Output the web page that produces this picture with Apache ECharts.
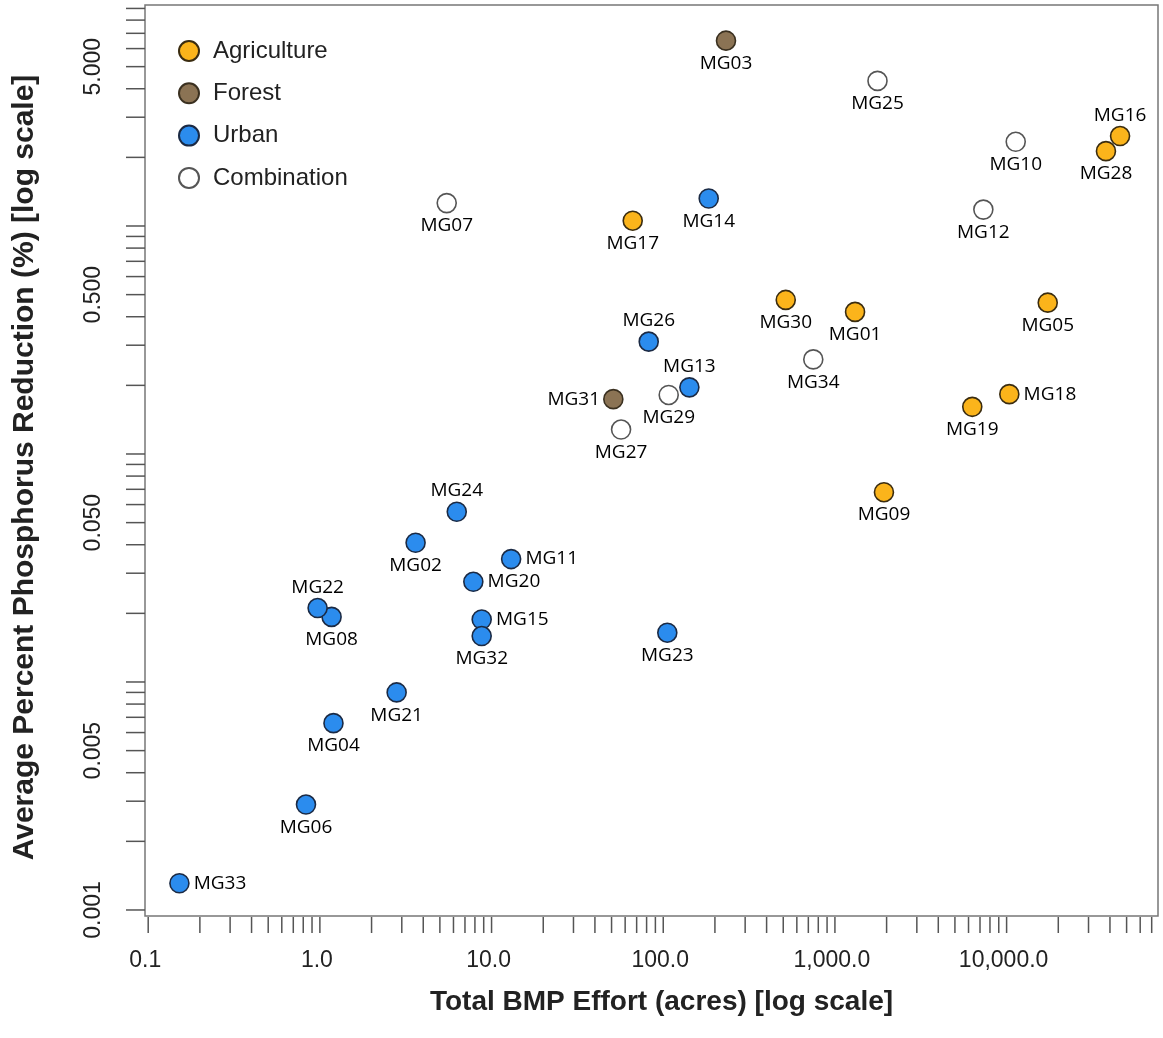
<!DOCTYPE html>
<html>
<head>
<meta charset="utf-8">
<script src="https://cdn.jsdelivr.net/npm/echarts@6/dist/echarts.min.js"></script>
<style>
  html, body { margin: 0; padding: 0; background: #ffffff; }
  #chart { width: 1163px; height: 1038px; }
</style>
</head>
<body>
<div id="chart"></div>
<script>
// Monitoring groups: total BMP effort vs. average phosphorus reduction
const siteNames = ['MG01','MG02','MG03','MG04','MG05','MG06','MG07','MG08','MG09','MG10',
                   'MG11','MG12','MG13','MG14','MG15','MG16','MG17','MG18','MG19','MG20',
                   'MG21','MG22','MG23','MG24','MG25','MG26','MG27','MG28','MG29','MG30',
                   'MG31','MG32','MG33','MG34'];
const landUse = ['Agriculture','Urban','Forest','Urban','Agriculture','Urban','Combination','Urban','Agriculture','Combination',
                 'Urban','Combination','Urban','Urban','Urban','Agriculture','Agriculture','Agriculture','Agriculture','Urban',
                 'Urban','Urban','Urban','Urban','Combination','Urban','Combination','Agriculture','Combination','Agriculture',
                 'Forest','Urban','Urban','Combination'];
const bmpEffortAcres = [1310, 3.61, 232, 1.20, 17360, 0.83, 5.48, 1.17, 1930, 11300,
                        13.0, 7320, 142, 184, 8.76, 45800, 66.4, 10370, 6310, 7.83,
                        2.80, 0.97, 105.6, 6.27, 1770, 82.3, 56.8, 37900, 107.6, 517,
                        51.2, 8.76, 0.152, 748];
const phosphorusReductionPct = [0.420, 0.0408, 6.50, 0.0066, 0.461, 0.0029, 1.26, 0.0193, 0.068, 2.34,
                                0.0346, 1.18, 0.196, 1.32, 0.0188, 2.48, 1.055, 0.183, 0.161, 0.0275,
                                0.0090, 0.0211, 0.01645, 0.0558, 4.33, 0.311, 0.128, 2.13, 0.1815, 0.474,
                                0.174, 0.0159, 0.00131, 0.260];

const categories = ['Agriculture', 'Forest', 'Urban', 'Combination'];

// Axis ranges and tick marks (log scales)
const X_MIN = 0.0958, X_MAX = 76180;
const Y_MIN = 0.000941, Y_MAX = 9.318;
const xTickValues = [0.1,0.2,0.3,0.4,0.5,0.6,0.7,0.8,0.9,
                     1,2,3,4,5,6,7,8,9,
                     10,20,30,40,50,60,70,80,90,
                     100,200,300,400,500,600,700,800,900,
                     1000,2000,3000,4000,5000,6000,7000,8000,9000,
                     10000,20000,30000,40000,50000,60000,70000];
const xLabelValues = [0.1, 1, 10, 100, 1000, 10000];
const xLabelTexts = ['0.1', '1.0', '10.0', '100.0', '1,000.0', '10,000.0'];
const yTickValues = [0.001,0.002,0.003,0.004,0.005,0.006,0.007,0.008,0.009,
                     0.01,0.02,0.03,0.04,0.05,0.06,0.07,0.08,0.09,
                     0.1,0.2,0.3,0.4,0.5,0.6,0.7,0.8,0.9,
                     1,2,3,4,5,6,7,8,9];
const yLabelValues = [0.001, 0.005, 0.05, 0.5, 5];
const yLabelTexts = ['0.001', '0.005', '0.050', '0.500', '5.000'];

// Which side of its marker each site label sits on (default: below)
const labelSide = {
  MG16: 'top', MG22: 'top', MG24: 'top', MG26: 'top', MG13: 'top',
  MG33: 'right', MG11: 'right', MG15: 'right', MG18: 'right', MG20: 'right',
  MG31: 'left'
};
const sideDistance = { top: 1, bottom: 3, left: 3, right: 4 };

const categoryStyle = {
  Agriculture: { color: '#FBB41B', borderColor: '#3a2c10' },
  Forest:      { color: '#8B7354', borderColor: '#3a3020' },
  Urban:       { color: '#2B8CEE', borderColor: '#1b2a44' },
  Combination: { color: '#ffffff', borderColor: '#555555' }
};

const AXIS_FONT = '"Liberation Sans", Arial, sans-serif';
const TICK_COLOR = '#555555';

const scatterSeries = categories.map(cat => ({
  type: 'scatter',
  name: cat,
  symbol: 'circle',
  symbolSize: 19,
  z: 3,
  itemStyle: { color: categoryStyle[cat].color, borderColor: categoryStyle[cat].borderColor, borderWidth: 1.6, opacity: 1 },
  label: {
    show: true,
    formatter: '{b}',
    fontFamily: '"Open Sans", sans-serif',
    fontSize: 19,
    color: '#000000'
  },
  emphasis: { disabled: true },
  data: siteNames
    .map((name, i) => ({ name, i }))
    .filter(d => landUse[d.i] === cat)
    .map(d => {
      const side = labelSide[d.name] || 'bottom';
      return {
        name: d.name,
        value: [bmpEffortAcres[d.i], phosphorusReductionPct[d.i]],
        label: { position: side, distance: sideDistance[side] }
      };
    })
}));

// Tick marks and tick labels drawn outside the plotting frame
const xTickSeries = {
  type: 'custom',
  coordinateSystem: 'cartesian2d',
  clip: false,
  silent: true,
  z: 1,
  data: xTickValues.map(v => [v, Y_MIN, xLabelValues.indexOf(v)]),
  renderItem(params, api) {
    const cs = params.coordSys;
    const x = api.coord([api.value(0), Y_MIN])[0];
    const yb = cs.y + cs.height;
    const children = [{
      type: 'line',
      shape: { x1: x, y1: yb + 1, x2: x, y2: yb + 17 },
      style: { stroke: TICK_COLOR, lineWidth: 1.5 }
    }];
    const k = api.value(2);
    if (k >= 0) {
      children.push({
        type: 'text', x: x - 3, y: yb + 45,
        style: { text: xLabelTexts[k], fontFamily: AXIS_FONT, fontSize: 23, fill: '#222222', align: 'center', verticalAlign: 'middle' }
      });
    }
    return { type: 'group', children };
  }
};

const yTickSeries = {
  type: 'custom',
  coordinateSystem: 'cartesian2d',
  clip: false,
  silent: true,
  z: 1,
  data: yTickValues.map(v => [X_MIN, v, yLabelValues.indexOf(v)]),
  renderItem(params, api) {
    const cs = params.coordSys;
    const y = api.coord([X_MIN, api.value(1)])[1];
    const xl = cs.x;
    const children = [{
      type: 'line',
      shape: { x1: xl - 19, y1: y, x2: xl, y2: y },
      style: { stroke: TICK_COLOR, lineWidth: 1.5 }
    }];
    const k = api.value(2);
    if (k >= 0) {
      children.push({
        type: 'text', x: xl - 51, y: y, rotation: Math.PI / 2,
        style: { text: yLabelTexts[k], fontFamily: AXIS_FONT, fontSize: 23, fill: '#222222', align: 'center', verticalAlign: 'middle' }
      });
    }
    return { type: 'group', children };
  }
};

const chart = echarts.init(document.getElementById('chart'), null, { renderer: 'canvas' });
chart.setOption({
  backgroundColor: '#ffffff',
  animation: false,
  grid: {
    left: 145, top: 5, width: 1013, height: 911,
    show: true, borderColor: '#777777', borderWidth: 1.5, backgroundColor: 'transparent'
  },
  legend: {
    data: categories,
    orient: 'vertical',
    left: 178, top: 39,
    padding: 0,
    itemWidth: 20, itemHeight: 20,
    itemGap: 18.3,
    icon: 'circle',
    selectedMode: false,
    textStyle: { fontFamily: AXIS_FONT, fontSize: 24, color: '#222222', lineHeight: 24, padding: [0, 0, 0, 9] }
  },
  xAxis: {
    type: 'log', logBase: 10, min: X_MIN, max: X_MAX,
    name: 'Total BMP Effort (acres) [log scale]',
    nameLocation: 'middle', nameGap: 72,
    nameTextStyle: { fontFamily: AXIS_FONT, fontWeight: 'bold', fontSize: 28, color: '#222222', padding: [0, 0, 0, 20] },
    axisLine: { show: false }, axisTick: { show: false }, axisLabel: { show: false },
    splitLine: { show: false }, minorTick: { show: false }
  },
  yAxis: {
    type: 'log', logBase: 10, min: Y_MIN, max: Y_MAX,
    name: 'Average Percent Phosphorus Reduction (%) [log scale]',
    nameLocation: 'middle', nameGap: 105,
    nameTextStyle: { fontFamily: AXIS_FONT, fontWeight: 'bold', fontSize: 30, color: '#222222', padding: [0, 14, 0, 0] },
    axisLine: { show: false }, axisTick: { show: false }, axisLabel: { show: false },
    splitLine: { show: false }, minorTick: { show: false }
  },
  series: [xTickSeries, yTickSeries].concat(scatterSeries)
});
</script>
</body>
</html>
